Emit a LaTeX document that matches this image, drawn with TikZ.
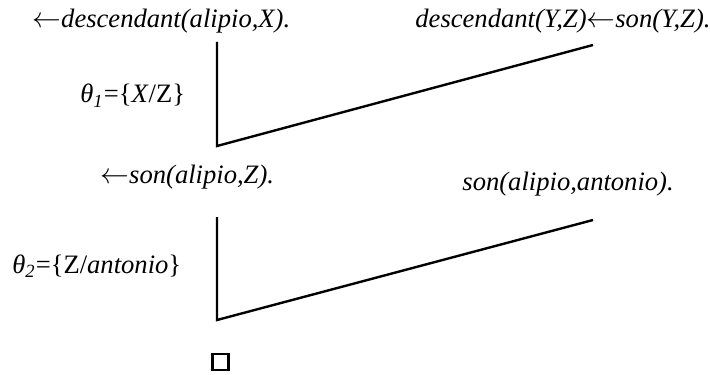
\documentclass[tikz,border=0pt]{standalone}
\usepackage{fontspec}
\setmainfont{Liberation Serif}
\usetikzlibrary{positioning}

\newcommand{\larr}{$\leftarrow$}

\begin{document}
\begin{tikzpicture}[
  x=0.5pt, y=-0.5pt,
  clause/.style={inner sep=0pt, font=\fontsize{13.3}{15}\selectfont\itshape, anchor=base west},
  subst/.style={inner sep=0pt, font=\fontsize{13.3}{15}\selectfont, anchor=base west},
  edge/.style={line width=1.2pt, line join=miter},
  empty/.style={draw, line width=1.1pt, minimum size=8pt, inner sep=0pt}
]
  \useasboundingbox (0,0) rectangle (710,374);

  % first step
  \node[clause] (g0) at (32,28) {\larr descendant(alipio,X).};
  \node[clause] (c1) at (415,28) {descendant(Y,Z)\larr son(Y,Z).};
  \node[subst] (t1) at (80,103) {\textit{θ\textsubscript{1}}=\{\textit{X}/Z\}};
  \coordinate (g0b) at (217,42);
  \coordinate (c1b) at (593,45);
  \coordinate (r1) at (217,146);
  \draw[edge] (g0b) -- (r1) -- (c1b);

  % second step
  \node[clause] (g1) at (100,183) {\larr son(alipio,Z).};
  \node[clause] (c2) at (462,190) {son(alipio,antonio).};
  \node[subst] (t2) at (12,273) {\textit{θ\textsubscript{2}}=\{Z/\textit{antonio}\}};
  \coordinate (g1b) at (217,217);
  \coordinate (c2b) at (593,220);
  \coordinate (r2) at (217,320);
  \draw[edge] (g1b) -- (r2) -- (c2b);

  \node[empty] (box) at (220.5,362) {};
\end{tikzpicture}
\end{document}
